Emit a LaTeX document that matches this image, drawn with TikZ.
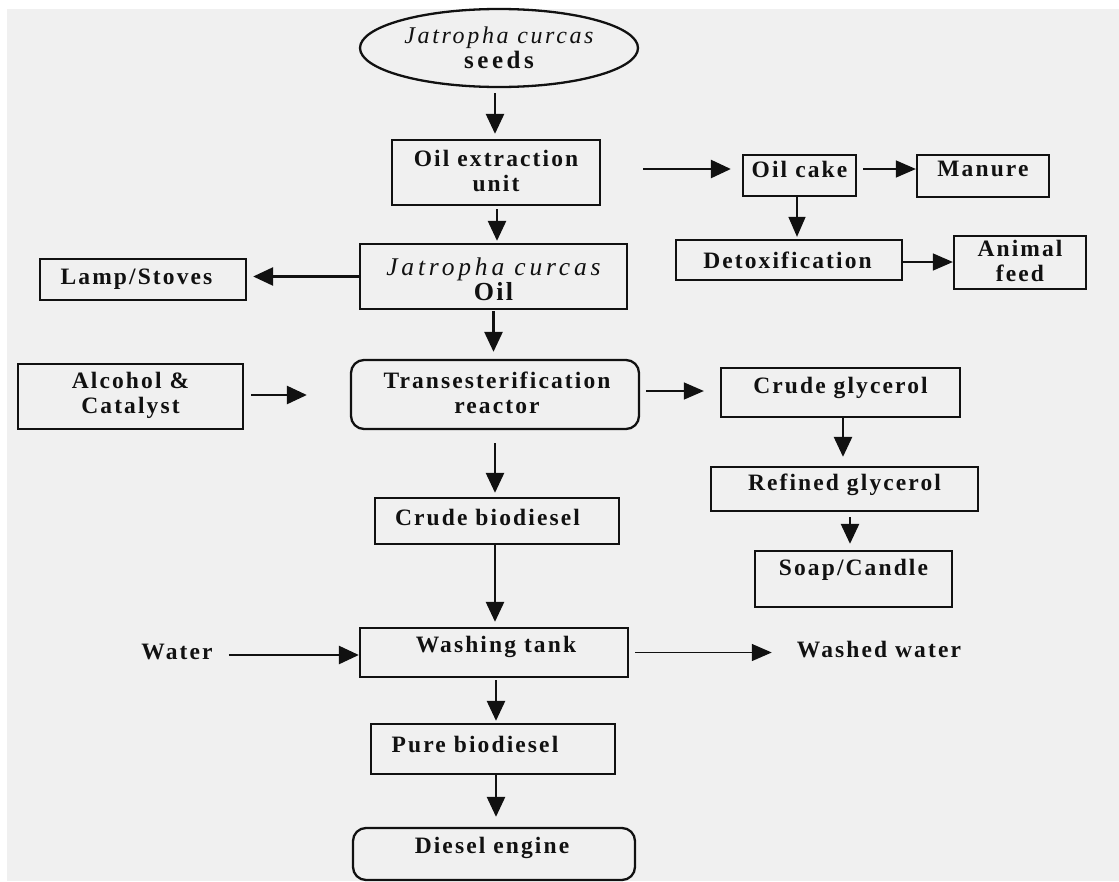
\documentclass[tikz,border=0pt]{standalone}
\usepackage{fontspec}
\setmainfont{Liberation Serif}[LetterSpace=9]
\usetikzlibrary{arrows.meta,shapes.geometric}
\definecolor{bgc}{HTML}{F0F0F0}
\definecolor{ink}{HTML}{111111}
\tikzset{
 box/.style={draw=ink, line width=2.3pt, inner sep=0pt},
 rbox/.style={box, rounded corners=13pt},
 t/.style={font=\fontsize{23.5}{25}\selectfont\bfseries, align=center, inner sep=0pt, text=ink},
 arr/.style={draw=ink, line width=2.6pt, -{Triangle[length=20pt,width=18pt]}},
 tarr/.style={draw=ink, line width=1.5pt, -{Triangle[length=20pt,width=17pt]}},
}
\begin{document}
\begin{tikzpicture}[x=1pt,y=-1pt]
\useasboundingbox (0,0) rectangle (1119,881);
\fill[white] (0,0) rectangle (1119,881);
\fill[bgc] (7,9) rectangle (1119,881);

\node[ellipse, draw=ink, line width=2.3pt, minimum width=278pt, minimum height=78pt, inner sep=0pt, align=center, text=ink] (seeds) at (499,48)
  {{\fontsize{24}{25}\selectfont\itshape\addfontfeature{LetterSpace=11}Jatropha curcas}\\[1pt]{\fontsize{25}{25}\selectfont\bfseries\addfontfeature{LetterSpace=14}seeds}};

\node[box, minimum width=208pt, minimum height=65pt, label={[t,yshift=2pt]center:{Oil extraction\\unit}}] (oilext) at (496,172.5) {};
\node[box, minimum width=267pt, minimum height=65pt, label={[t,yshift=-2.5pt]center:{{\fontsize{25.5}{25}\selectfont\itshape\mdseries\addfontfeature{LetterSpace=15}Jatropha curcas}\\{\fontsize{26}{25}\selectfont Oil}}}] (oil) at (493.5,276.5) {};
\node[box, minimum width=113pt, minimum height=41pt, label={[t,yshift=6.5pt]center:Oil cake}] (cake) at (799.5,175.5) {};
\node[box, minimum width=132pt, minimum height=42pt, label={[t,yshift=7pt]center:Manure}] (manure) at (983,176) {};
\node[box, minimum width=226pt, minimum height=40pt, label={[t,xshift=-1.5pt]center:Detoxification}] (detox) at (789,260) {};
\node[box, minimum width=132pt, minimum height=53pt, label={[t,yshift=2pt]center:{Animal\\feed}}] (animal) at (1020,262.5) {};
\node[box, minimum width=206pt, minimum height=41pt, label={[t,xshift=-6.5pt]center:Lamp/Stoves}] (lamp) at (143,279.5) {};
\node[box, minimum width=225pt, minimum height=65pt, label={[t,yshift=1pt]center:{Alcohol \&\\Catalyst}}] (alc) at (130.5,396.5) {};
\node[rbox, minimum width=288pt, minimum height=69pt, label={[t,xshift=2pt,yshift=2pt]center:{Transesterification\\reactor}}] (trans) at (495,394.5) {};
\node[box, minimum width=239pt, minimum height=49pt, label={[t,yshift=4.5pt]center:Crude glycerol}] (cg) at (840.5,392.5) {};
\node[box, minimum width=267pt, minimum height=44pt, label={[t,yshift=4pt]center:Refined glycerol}] (rg) at (844.5,489) {};
\node[box, minimum width=197pt, minimum height=56pt, label={[t,yshift=9pt]center:Soap/Candle}] (soap) at (853.5,579) {};
\node[box, minimum width=244pt, minimum height=46pt, label={[t,xshift=-9.5pt,yshift=4pt]center:Crude biodiesel}] (cbd) at (497,521) {};
\node[box, minimum width=268pt, minimum height=49pt, label={[t,xshift=2pt,yshift=5.5pt]center:Washing tank}] (wash) at (494,652.5) {};
\node[t] (water) at (177,652) {Water};
\node[t] (washed) at (879,650) {Washed water};
\node[box, minimum width=244pt, minimum height=50pt, label={[t,xshift=-18pt,yshift=5pt]center:Pure biodiesel}] (pure) at (493,749) {};
\node[rbox, minimum width=282pt, minimum height=52pt, label={[t,xshift=-2pt,yshift=6pt]center:Diesel engine}] (diesel) at (494,854) {};

\draw[arr, shorten <=5pt, shorten >=5pt] ([xshift=-4pt]seeds.south) -- ([xshift=-4pt]seeds.south |- oilext.north);
\draw[arr, shorten <=3pt, shorten >=2pt] ([xshift=1pt]oilext.south) -- ([xshift=1pt]oilext.south |- oil.north);
\draw[arr, shorten <=1pt, shorten >=7pt] (oil.south) -- (oil.south |- trans.north);
\draw[arr, shorten <=13pt, shorten >=4pt] (trans.south) -- (trans.south |- cbd.north);
\draw[arr, shorten >=5pt] ([xshift=-2pt]cbd.south) -- ([xshift=-2pt]cbd.south |- wash.north);
\draw[arr, shorten <=2pt, shorten >=2pt] ([xshift=2pt]wash.south) -- ([xshift=2pt]wash.south |- pure.north);
\draw[arr, shorten >=10pt] ([xshift=3pt]pure.south) -- ([xshift=3pt]pure.south |- diesel.north);
\draw[arr, shorten >=6pt] (oil.west) -- (oil.west -| lamp.east);
\draw[arr, shorten <=7pt, shorten >=43pt] ([yshift=1.5pt]alc.east) -- ([yshift=1.5pt]alc.east -| trans.west);
\draw[tarr, shorten <=6pt, shorten >=16pt] ([yshift=3.5pt]trans.east) -- ([yshift=3.5pt]trans.east -| cg.west);
\draw[arr, shorten >=9pt] ([xshift=2.5pt]cg.south) -- ([xshift=2.5pt]cg.south |- rg.north);
\draw[arr, shorten <=5pt, shorten >=6pt] ([xshift=5.5pt]rg.south) -- ([xshift=5.5pt]rg.south |- soap.north);
\draw[arr, shorten <=42pt, shorten >=11pt] ([yshift=3.5pt]oilext.east) -- ([yshift=3.5pt]oilext.east -| cake.west);
\draw[tarr, shorten <=6pt] ([yshift=6.5pt]cake.east) -- ([yshift=6.5pt]cake.east -| manure.west);
\draw[tarr, shorten >=2pt] ([xshift=-2.5pt]cake.south) -- ([xshift=-2.5pt]cake.south |- detox.north);
\draw[tarr] ([yshift=-2pt]detox.east) -- ([yshift=-2pt]detox.east -| animal.west);
\draw[arr, shorten <=16pt] ([yshift=-3pt]water.east) -- ([yshift=-3pt]water.east -| wash.west);
\draw[tarr, shorten <=6pt, shorten >=25pt] (wash.east) -- (wash.east -| washed.west);
\end{tikzpicture}
\end{document}
